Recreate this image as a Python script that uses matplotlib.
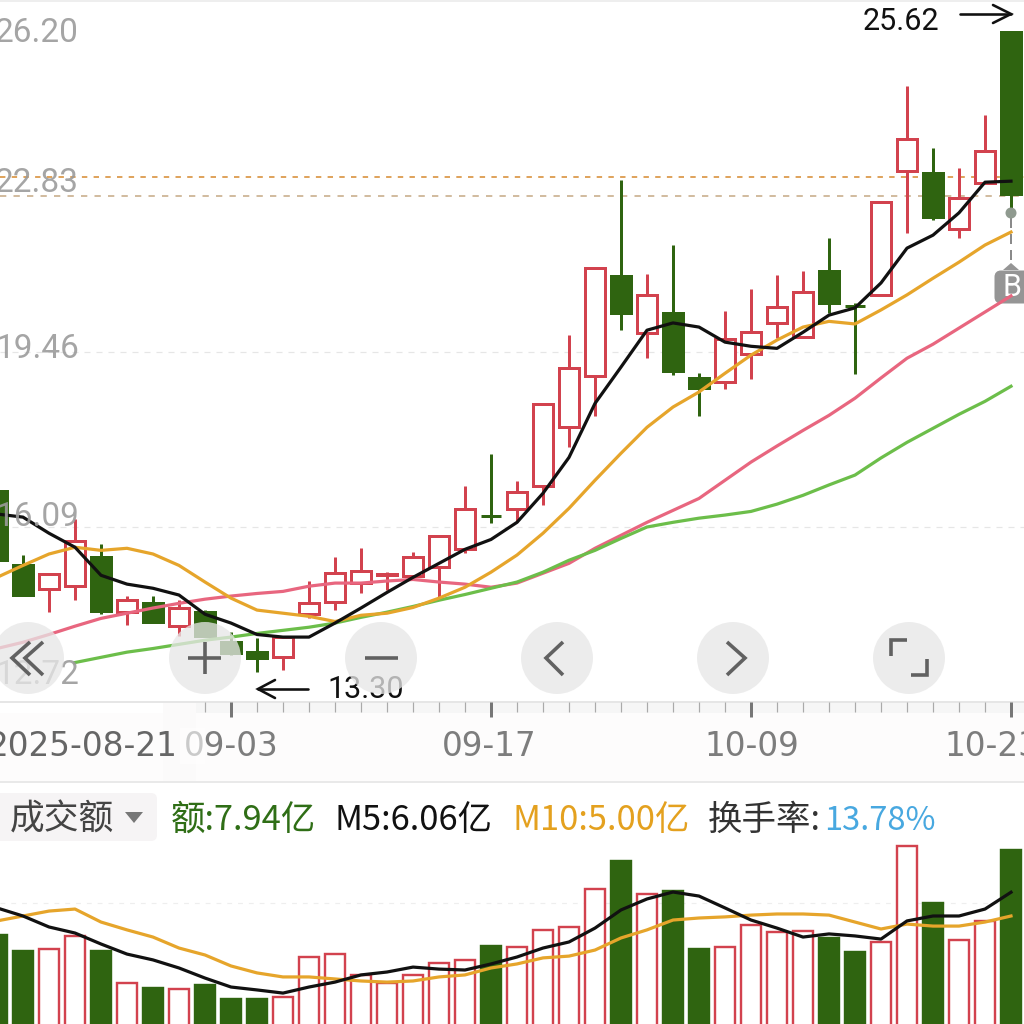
import numpy as np
import matplotlib
matplotlib.use("Agg")
import matplotlib.pyplot as plt
from matplotlib.patches import Circle, Rectangle, FancyBboxPatch, Polygon

# ---------- data ----------
READ_OFFSET = 0.04  # calibration of the values
opens = [16.74,15.31,14.85,14.91,15.47,14.41,14.58,14.14,14.41,13.83,13.64,13.54,14.37,14.60,14.97,15.13,15.10,15.28,15.62,16.26,
         16.39,16.84,17.97,18.96,20.88,19.78,20.17,18.92,18.84,19.38,19.98,19.71,20.98,20.30,20.52,22.91,22.87,21.79,22.67,25.58]
closes = [15.41,14.75,15.14,15.78,14.43,14.64,14.23,14.49,13.95,13.62,13.52,13.93,14.58,15.16,15.20,15.14,15.47,15.87,16.39,16.26,
          16.72,18.42,19.11,21.04,20.17,20.52,19.05,18.72,19.67,19.80,20.28,20.57,20.36,20.30,22.31,23.52,22.02,22.38,23.29,22.46]
highs = [16.74,15.51,15.16,16.20,15.72,14.72,14.72,14.64,14.45,14.02,13.91,13.95,15.01,15.47,15.64,15.18,15.56,15.89,16.84,17.45,
         16.93,18.42,19.75,21.04,22.73,20.92,21.48,19.01,20.21,20.63,20.90,20.98,21.61,20.36,22.31,24.54,23.35,22.96,23.98,25.58]
lows = [15.41,14.72,14.41,14.64,14.37,14.16,14.23,13.95,13.95,13.58,13.26,13.29,14.29,14.45,14.77,14.83,15.02,14.70,15.54,16.12,
        16.14,16.47,17.59,18.18,19.84,19.30,18.97,18.18,18.70,18.90,19.69,19.69,20.17,18.99,20.52,21.71,21.96,21.61,22.67,22.10]
ma5 = [16.30,16.24,15.93,15.66,15.12,14.95,14.87,14.74,14.37,14.20,13.98,13.93,13.93,14.20,14.49,14.79,15.08,15.35,15.62,15.81,
       16.14,16.70,17.39,18.43,19.13,19.84,19.98,19.90,19.61,19.53,19.49,19.80,20.13,20.27,20.75,21.42,21.67,22.10,22.69,22.71]
ma10 = [15.08,15.31,15.53,15.66,15.60,15.64,15.53,15.31,14.99,14.68,14.45,14.39,14.33,14.23,14.35,14.39,14.50,14.68,14.89,15.18,
        15.51,15.93,16.41,16.95,17.47,17.97,18.36,18.65,19.01,19.36,19.65,19.90,20.01,19.96,20.23,20.52,20.84,21.15,21.48,21.73]
ma20 = [13.71,13.83,13.98,14.14,14.29,14.39,14.49,14.58,14.66,14.72,14.77,14.81,14.91,14.97,14.97,15.01,15.04,14.99,14.95,14.89,
        14.97,15.16,15.35,15.64,15.89,16.14,16.37,16.60,16.95,17.30,17.61,17.91,18.20,18.53,18.92,19.30,19.57,19.88,20.19,20.50]
ma30_start = 3
ma30 = [13.44,13.54,13.64,13.71,13.79,13.87,13.93,14.00,14.06,14.12,14.20,14.31,14.41,14.52,14.64,14.75,14.87,14.99,15.18,15.41,
        15.60,15.83,16.05,16.14,16.22,16.28,16.35,16.49,16.66,16.86,17.05,17.38,17.68,17.95,18.22,18.47,18.76]
amount = [4.15,3.44,3.53,4.11,3.44,2.01,1.79,1.74,1.92,1.29,1.29,1.38,3.17,3.30,2.37,2.01,2.37,2.90,3.04,3.66,
          3.62,4.38,4.51,6.21,7.46,5.98,6.12,3.53,3.62,4.60,4.29,4.33,4.02,3.39,3.84,8.13,5.58,3.93,4.78,7.94]
amount_m5 = [5.36,5.00,4.51,4.24,3.75,3.30,3.04,2.68,2.23,1.83,1.70,1.56,1.83,2.05,2.37,2.50,2.72,2.63,2.59,2.86,
             3.17,3.57,3.84,4.46,5.27,5.76,6.07,5.89,5.36,4.82,4.46,4.06,4.20,4.11,3.97,4.78,5.00,5.00,5.31,6.06]
amount_m10 = [4.78,5.00,5.22,5.31,4.73,4.38,4.06,3.57,3.26,2.77,2.46,2.28,2.28,2.19,2.10,2.05,2.10,2.28,2.37,2.68,
              2.86,3.13,3.21,3.48,4.02,4.38,4.82,4.91,4.96,5.04,5.09,5.09,5.04,4.73,4.42,4.64,4.55,4.55,4.73,5.00]
price_ticks = ["26.20", "22.83", "19.46", "16.09", "12.72"]
date_labels = ["2025-08-21", "09-03", "09-17", "10-09", "10-23"]
major_tick_idx = [9, 19, 29, 39]
high_label, low_label = "25.62", "13.30"

RED, GREEN = "#d2424e", "#2f6410"
BLACK, ORANGE, PINK, LGREEN = "#111111", "#e6a52b", "#e8667f", "#6cbe4a"
CJK = ["Noto Sans CJK SC", "DejaVu Sans"]

px = 1 / 100 * 72  # one pixel in points
fig = plt.figure(figsize=(10.24, 10.24), dpi=100, facecolor="white")

def pixel_axes(z):
    a = fig.add_axes([0, 0, 1, 1], zorder=z)
    a.set_xlim(0, 1024); a.set_ylim(1024, 0); a.axis("off")
    return a

bg = pixel_axes(0)
ui = pixel_axes(3)
chart = fig.add_axes([0, (1024 - 702) / 1024, 1, 700 / 1024], zorder=1)
vol = fig.add_axes([0, 0, 1, (1024 - 782) / 1024], zorder=1)
xlim = (3 / 26, 1027 / 26)
for a in (chart, vol):
    a.set_xlim(*xlim); a.axis("off"); a.patch.set_alpha(0)
chart.set_ylim(12.72, 26.20)
vol.set_ylim(0.18, 10.98)

idx = np.arange(len(opens))
O, C, H, L = [np.array(v) + READ_OFFSET for v in (opens, closes, highs, lows)]
is_green = np.array([o > c or (o == c and i == 19) or i == 33 for i, (o, c) in enumerate(zip(O, C))])
colors = [GREEN if g else RED for g in is_green]

# price panel
bg.plot([0, 1024], [1, 1], color="#eeeeee", lw=2 * px)
for p in (19.46, 16.09):
    chart.axhline(p, color="#e6e6e6", lw=1.2 * px, dashes=(5, 5), zorder=1)
chart.axhline(22.83, color="#dc9a4c", lw=1.8 * px, dashes=(3, 3.5), zorder=1)
chart.axhline(22.46, color="#cdb596", lw=1.8 * px, dashes=(3.5, 4), zorder=1)

chart.vlines(idx, L, H, colors=colors, lw=3 * px, zorder=2)
chart.bar(idx, np.abs(C - O), 0.76, bottom=np.minimum(O, C),
          facecolor=[GREEN if g else "white" for g in is_green],
          edgecolor=colors, linewidth=3 * px, zorder=3)
chart.plot(idx, np.array(ma20) + READ_OFFSET, color=PINK, lw=3.2 * px, zorder=4)
chart.plot(idx[ma30_start:], np.array(ma30) + READ_OFFSET, color=LGREEN, lw=3.2 * px, zorder=5)
chart.plot(idx, np.array(ma10) + READ_OFFSET, color=ORANGE, lw=3.2 * px, zorder=6)
chart.plot(idx, np.array(ma5) + READ_OFFSET, color=BLACK, lw=3.2 * px, zorder=7)

for label, y in zip(price_ticks, (32, 182, 348, 515, 673)):
    ui.text(-5, y + 1.5, label, family="Roboto", fontsize=24, color="#9b9b9b", alpha=0.9,
            ha="left", va="center", zorder=1)

# B marker
bg.add_patch(FancyBboxPatch((996, 272), 40, 30, boxstyle="round,pad=0,rounding_size=5", fc="#959595", ec="#959595", lw=3 * px))
bg.add_patch(Polygon([[1003, 270], [1011, 263], [1019, 270]], fc="#959595", ec="none"))
bg.text(1012, 288, "B", family="Roboto", fontsize=22, color="white", ha="center", va="center")
bg.plot([1011, 1011], [218, 264], color="#8a8a8a", lw=2 * px, dashes=(5, 3))
ui.add_patch(Circle((1011, 213), 5.5, fc="#8f9a8f", ec="none"))

# extreme labels
ui.text(901, 21.5, high_label, family="Roboto", fontsize=22, color="#111111", ha="center", va="center")
ui.text(366, 689.5, low_label, family="Roboto", fontsize=22, color="#111111", ha="center", va="center")
arrow = dict(color="#111111", lw=2.6 * px, solid_capstyle="round", solid_joinstyle="miter")
ui.plot([960, 1011], [14, 14], **arrow); ui.plot([993, 1011, 993], [5, 14, 23], **arrow)
ui.plot([258, 308], [689, 689], **arrow); ui.plot([275, 258, 275], [680, 689, 698], **arrow)

# floating buttons
icon = dict(color="#616161", lw=3.6 * px, solid_capstyle="butt", solid_joinstyle="miter", zorder=5)
for cx in (28, 205, 381, 557, 733, 909):
    ui.add_patch(Circle((cx, 658), 36, fc="#e7e7e7", ec="none", alpha=0.76, zorder=4))
ui.plot([30, 12, 30], [642, 658, 675], **icon)
ui.plot([43, 25, 43], [642, 658, 675], **icon)
ui.plot([188, 221], [658, 658], **icon); ui.plot([205, 205], [642, 674], **icon)
ui.plot([365, 398], [658, 658], **icon)
ui.plot([563, 546, 563], [642, 658, 675], **icon)
ui.plot([727, 745, 727], [642, 658, 675], **icon)
ui.plot([891, 891, 907], [656, 640, 640], **icon)
ui.plot([927, 927, 911], [659, 675, 675], **icon)

# date strip
bg.add_patch(Rectangle((0, 713), 1024, 68, fc="#fdfcfc", ec="none"))
bg.add_patch(Rectangle((163, 703), 33, 79, fc="#fbfafa", ec="none"))
bg.add_patch(Rectangle((196, 703), 828, 10, fc="#f6f6f6", ec="none"))
bg.plot([0, 1024], [702, 702], color="#e6e6e6", lw=2 * px)
bg.plot([0, 1024], [781.5, 781.5], color="#e9e9e9", lw=2 * px)
minor_idx = [i for i in idx if i >= 8]
for i in minor_idx:
    xp = -3 + 26 * i
    if i in major_tick_idx:
        bg.plot([xp, xp], [702, 717], color="#777777", lw=3 * px, solid_capstyle="butt")
    else:
        bg.plot([xp, xp], [702, 712], color="#aaaaaa", lw=1.2 * px, solid_capstyle="butt")
bg.text(177, 746.5, date_labels[0], family="DejaVu Sans", fontsize=23.5, color="#666666", ha="right", va="center", zorder=3)
for label, x0 in zip(date_labels[1:], (184, 442, 704, 944)):
    bg.text(x0, 746.5, label, family="DejaVu Sans", fontsize=23.5, color="#7d7d7d", ha="left", va="center", zorder=3)
ui.add_patch(Rectangle((180, 728), 25, 36, fc="white", ec="none", alpha=0.6))

# header
bg.add_patch(FancyBboxPatch((-10, 793), 167, 48, boxstyle="round,pad=0,rounding_size=6", fc="#f6f4f5", ec="none"))
bg.text(10, 820.5, "成交额", family=CJK, fontsize=25, color="#444444", ha="left", va="center")
bg.add_patch(Polygon([[125, 812], [143, 812], [134, 823]], fc="#777777", ec="none"))
for text, x0, col, fs in (("额:7.94亿", 171, "#2f6e16", 24.8), ("M5:6.06亿", 335, "#111111", 24.8),
                          ("M10:5.00亿", 512, "#e4a11f", 24.8), ("换手率:", 708, "#333333", 24.8),
                          ("13.78%", 824, "#48a8e0", 23.5)):
    bg.text(x0, 820.5, text, family=CJK, fontsize=fs, color=col, ha="left", va="center")

# amount panel
vol.axhline(5.58, color="#eeeeee", lw=1.2 * px, dashes=(4, 5), zorder=1)
vol.bar(idx, amount, 0.77, facecolor=[GREEN if g else "white" for g in is_green],
        edgecolor=colors, linewidth=2.4 * px, zorder=2)
vol.plot(idx, amount_m10, color=ORANGE, lw=3.2 * px, zorder=3)
vol.plot(idx, amount_m5, color=BLACK, lw=3.2 * px, zorder=4)

fig.savefig("out.png", dpi=100, facecolor="white")
